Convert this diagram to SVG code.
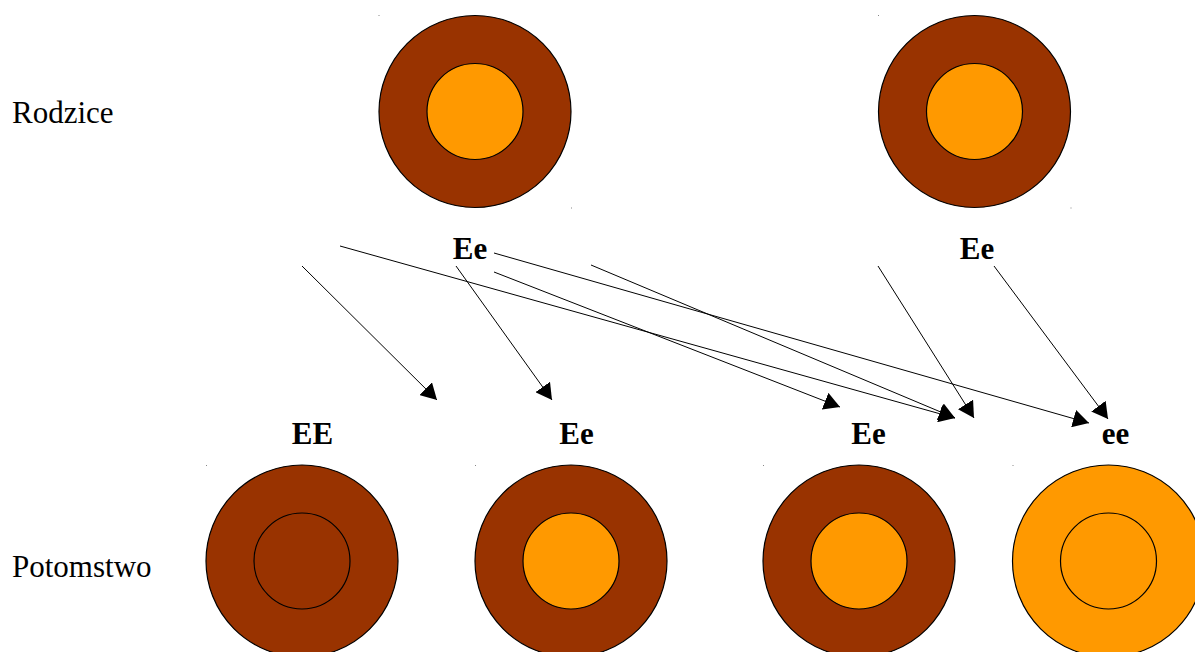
<svg xmlns="http://www.w3.org/2000/svg" width="1195" height="652" viewBox="0 0 1195 652">
<defs>
<style>
.brown{fill:#993300;stroke:#000;stroke-width:1.2}
.orange{fill:#FF9900;stroke:#000;stroke-width:1.2}
.lbl{font-family:"Liberation Serif","Times New Roman",serif;font-size:31px;fill:#000}
.gen{font-family:"Liberation Serif","Times New Roman",serif;font-size:31px;font-weight:bold;fill:#000;text-anchor:middle}
.conn line{stroke:#000;stroke-width:1;fill:none;marker-end:url(#ah)}
.dot{fill:#888}
</style>
<marker id="ah" markerUnits="userSpaceOnUse" markerWidth="17" markerHeight="18" refX="16" refY="9" orient="auto">
<path d="M0,0 L16,9 L0,18 Z" fill="#000"/>
</marker>
</defs>
<rect width="1195" height="652" fill="#fff"/>
<text class="lbl" x="12" y="123">Rodzice</text>
<text class="lbl" x="12" y="577">Potomstwo</text>

<g id="parent1">
<rect class="dot" x="378.5" y="15" width="1" height="1"/>
<rect class="dot" x="571" y="207.5" width="1" height="1"/>
<circle class="brown" cx="475" cy="111.5" r="96"/>
<circle class="orange" cx="475" cy="111.5" r="48"/>
<text class="gen" x="470" y="259">Ee</text>
</g>
<g id="parent2">
<rect class="dot" x="878" y="15" width="1" height="1"/>
<rect class="dot" x="1070.5" y="207.5" width="1" height="1"/>
<circle class="brown" cx="974.5" cy="111.5" r="96"/>
<circle class="orange" cx="974.5" cy="111.5" r="48"/>
<text class="gen" x="977" y="259">Ee</text>
</g>

<g id="child1">
<rect class="dot" x="206" y="465" width="1" height="1"/>
<circle class="brown" cx="302" cy="561" r="96"/>
<circle class="brown" cx="302" cy="561" r="48"/>
<text class="gen" x="312.5" y="444">EE</text>
</g>
<g id="child2">
<rect class="dot" x="475" y="465" width="1" height="1"/>
<circle class="brown" cx="571" cy="561" r="96"/>
<circle class="orange" cx="571" cy="561" r="48"/>
<text class="gen" x="576.5" y="444">Ee</text>
</g>
<g id="child3">
<rect class="dot" x="763" y="465" width="1" height="1"/>
<circle class="brown" cx="859" cy="561" r="96"/>
<circle class="orange" cx="859" cy="561" r="48"/>
<text class="gen" x="868.5" y="444">Ee</text>
</g>
<g id="child4">
<rect class="dot" x="1012.5" y="465" width="1" height="1"/>
<circle class="orange" cx="1108.5" cy="561" r="96"/>
<circle class="orange" cx="1108.5" cy="561" r="48"/>
<text class="gen" x="1115.5" y="444">ee</text>
</g>

<g id="connectors" class="conn">
<line x1="302" y1="266" x2="437" y2="400"/>
<line x1="456" y1="266" x2="552" y2="400"/>
<line x1="340" y1="246" x2="955" y2="418"/>
<line x1="494" y1="272" x2="840" y2="407"/>
<line x1="591" y1="265" x2="955" y2="418"/>
<line x1="494" y1="253" x2="1089" y2="423"/>
<line x1="878" y1="266" x2="974" y2="418"/>
<line x1="994" y1="266" x2="1108" y2="419"/>
</g>
</svg>
